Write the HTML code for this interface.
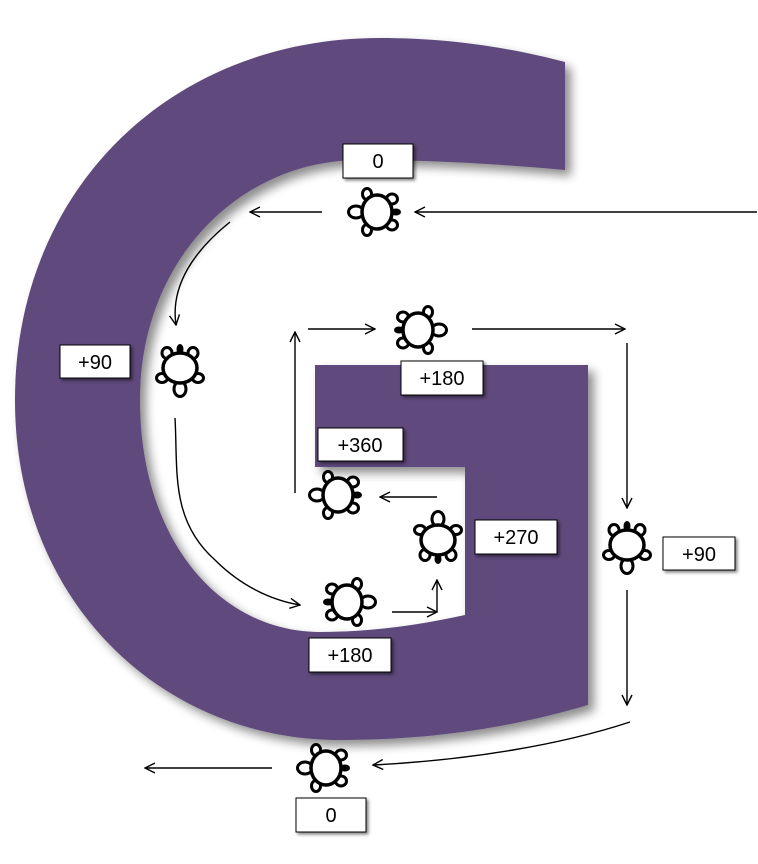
<!DOCTYPE html>
<html><head><meta charset="utf-8"><style>
html,body{margin:0;padding:0;background:#fff;}
svg{display:block;}
text{font-family:"Liberation Sans",sans-serif;font-size:20px;}
</style></head><body>
<svg width="758" height="864" viewBox="0 0 758 864">
<defs>
<filter id="sh" x="-20%" y="-20%" width="140%" height="140%"><feGaussianBlur in="SourceAlpha" stdDeviation="5"/><feOffset dx="6" dy="6"/><feComponentTransfer><feFuncA type="linear" slope="0.45"/></feComponentTransfer><feMerge><feMergeNode/><feMergeNode in="SourceGraphic"/></feMerge></filter>
<filter id="bs" x="-20%" y="-20%" width="150%" height="160%"><feGaussianBlur in="SourceAlpha" stdDeviation="1.5"/><feOffset dx="2" dy="2"/><feComponentTransfer><feFuncA type="linear" slope="0.5"/></feComponentTransfer><feMerge><feMergeNode/><feMergeNode in="SourceGraphic"/></feMerge></filter>
<marker id="ah" viewBox="0 0 12 12" refX="11" refY="6" markerWidth="12" markerHeight="12" markerUnits="userSpaceOnUse" orient="auto"><path d="M1,1 L11,6 L1,11" fill="none" stroke="#000" stroke-width="1.4"/></marker>
<g id="turtle">
<ellipse cx="0" cy="-19" rx="3.5" ry="5" fill="#000"/>
<ellipse cx="-13" cy="-15" rx="5" ry="5.5" fill="#fff" stroke="#000" stroke-width="3"/>
<ellipse cx="13" cy="-15" rx="5" ry="5.5" fill="#fff" stroke="#000" stroke-width="3"/>
<ellipse cx="-18" cy="10" rx="5.5" ry="4.5" fill="#fff" stroke="#000" stroke-width="3"/>
<ellipse cx="18" cy="10" rx="5.5" ry="4.5" fill="#fff" stroke="#000" stroke-width="3"/>
<ellipse cx="0" cy="21" rx="6" ry="7.5" fill="#fff" stroke="#000" stroke-width="3"/>
<ellipse cx="0" cy="0" rx="17" ry="15" fill="#fff" stroke="#000" stroke-width="3.5"/>
</g>
</defs>
<path filter="url(#sh)" fill="#604a7b" d="M565,62 C500,45 440,38 380,38 C170,38 15,190 15,400 C15,600 160,740 340,740 C440,740 520,725 588,705 L588,365 L315,365 L315,467 L465,467 L465,615 C420,625 370,632 320,632 C220,632 140,540 140,400 C140,260 240,160 360,160 C440,160 510,165 565,170 Z"/>
<g fill="none" stroke="#000" stroke-width="1.4" marker-end="url(#ah)">
<line x1="757" y1="212" x2="415" y2="212"/>
<line x1="322" y1="212" x2="250" y2="212"/>
<path d="M230,222 C195,250 170,285 176,325"/>
<path d="M175,418 C178,470 170,520 215,560 C240,585 270,600 300,605"/>
<path d="M392,612 L437,612"/>
<path d="M437,612 L437,580"/>
<line x1="437" y1="497" x2="380" y2="497"/>
<line x1="295" y1="493" x2="295" y2="332"/>
<line x1="308" y1="329" x2="375" y2="329"/>
<line x1="472" y1="329" x2="625" y2="329"/>
<line x1="627" y1="343" x2="627" y2="508"/>
<line x1="627" y1="590" x2="627" y2="705"/>
<path d="M630,722 C560,745 470,760 373,765"/>
<line x1="272" y1="768" x2="145" y2="768"/>
</g>
<use href="#turtle" transform="translate(377,212) rotate(90)"/>
<use href="#turtle" transform="translate(180,368)"/>
<use href="#turtle" transform="translate(347,602) rotate(-90)"/>
<use href="#turtle" transform="translate(438,540) rotate(180)"/>
<use href="#turtle" transform="translate(338,495) rotate(90)"/>
<use href="#turtle" transform="translate(418,330) rotate(-90)"/>
<use href="#turtle" transform="translate(627,545)"/>
<use href="#turtle" transform="translate(326,768) rotate(90)"/>
<g filter="url(#bs)" fill="#fff" stroke="#000" stroke-width="1">
<rect x="343" y="144" width="70" height="34"/>
<rect x="60" y="345" width="70" height="33"/>
<rect x="401" y="361" width="82" height="34"/>
<rect x="318" y="428" width="85" height="33"/>
<rect x="475" y="520" width="82" height="34"/>
<rect x="663" y="537" width="72" height="33"/>
<rect x="309" y="638" width="82" height="34"/>
<rect x="296" y="798" width="70" height="34"/>
</g>
<g text-anchor="middle" fill="#000">
<text x="378" y="168">0</text>
<text x="95" y="369">+90</text>
<text x="442" y="385">+180</text>
<text x="360" y="452">+360</text>
<text x="516" y="544">+270</text>
<text x="699" y="561">+90</text>
<text x="350" y="662">+180</text>
<text x="331" y="822">0</text>
</g>
</svg>
</body></html>
